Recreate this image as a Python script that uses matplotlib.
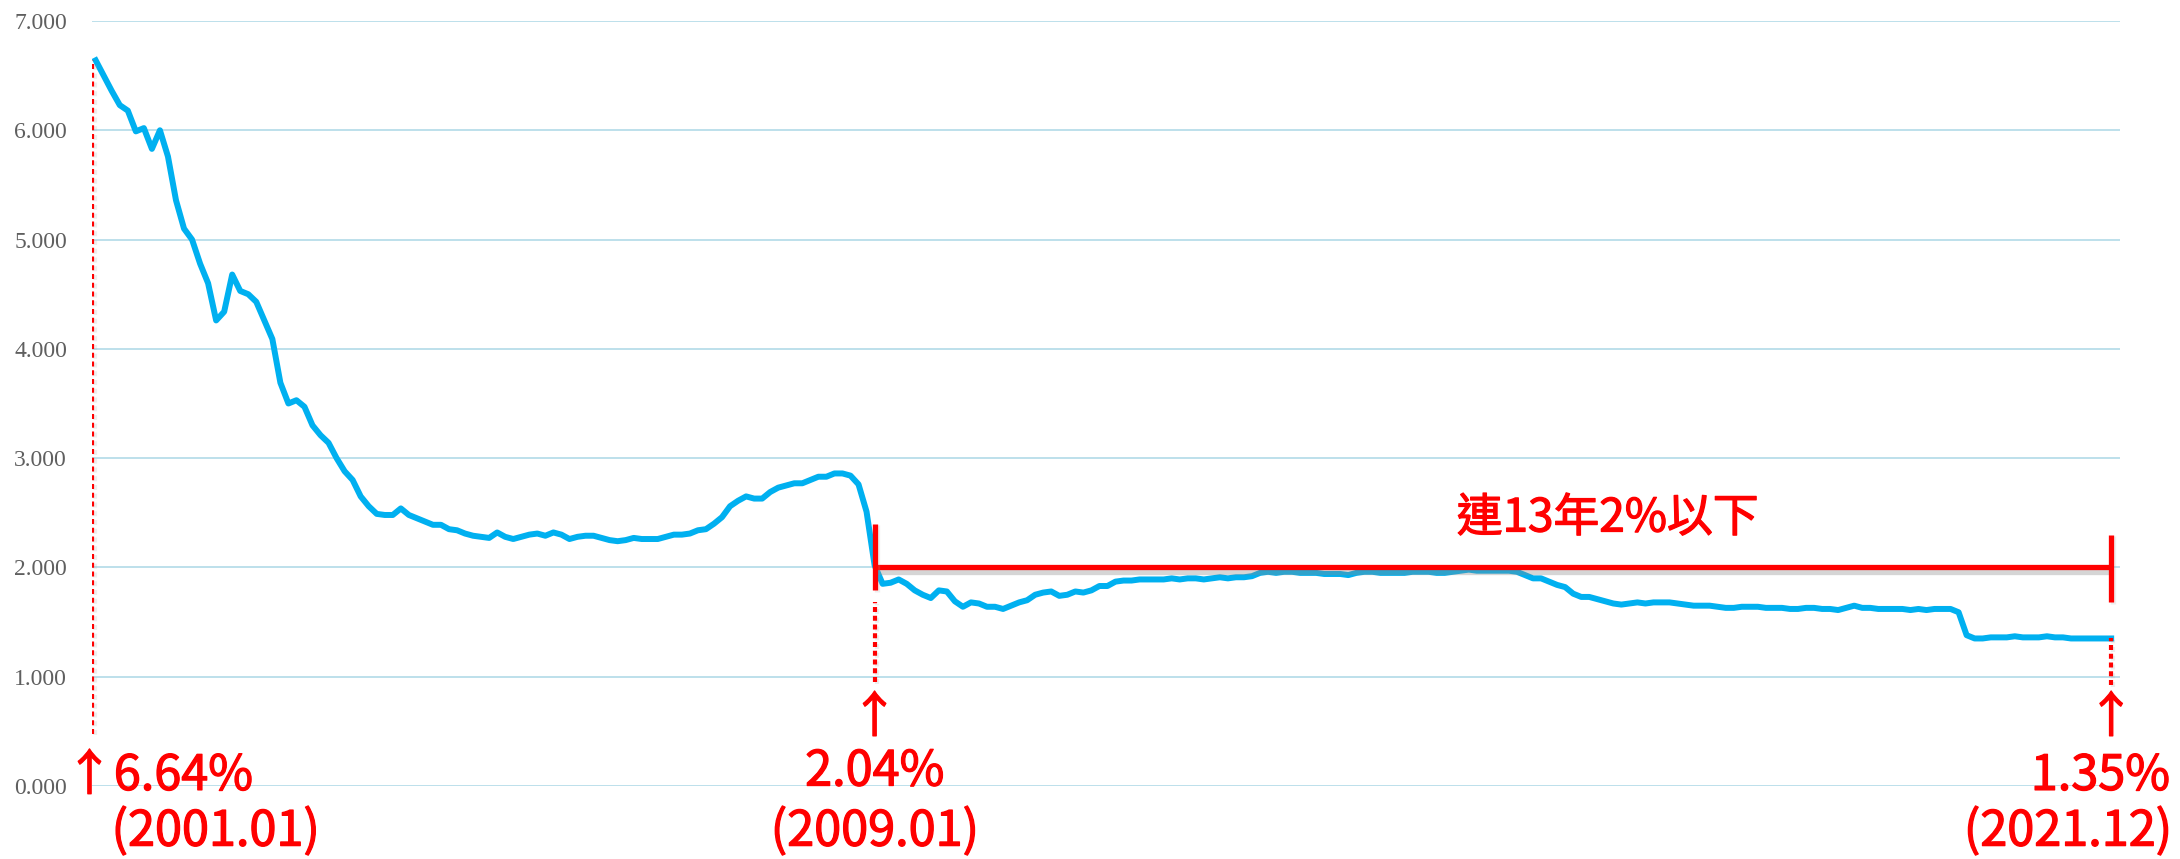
import matplotlib
matplotlib.use("Agg")
import matplotlib.pyplot as plt
import matplotlib.patheffects as pe

# monthly rate (%), 2001.01 .. 2021.12
years = list(range(2001, 2022))
months = [f"{y}.{m:02d}" for y in years for m in range(1, 13)]

rate = [
    6.64, 6.50, 6.36, 6.23, 6.18, 5.99, 6.02, 5.83, 6.00, 5.76, 5.36, 5.10,
    5.00, 4.78, 4.60, 4.26, 4.34, 4.68, 4.53, 4.50, 4.43, 4.26, 4.09, 3.69,
    3.50, 3.53, 3.47, 3.30, 3.21, 3.14, 3.00, 2.88, 2.80, 2.65, 2.56, 2.49,
    2.48, 2.48, 2.54, 2.48, 2.45, 2.42, 2.39, 2.39, 2.35, 2.34, 2.31, 2.29,
    2.28, 2.27, 2.32, 2.28, 2.26, 2.28, 2.30, 2.31, 2.29, 2.32, 2.30, 2.26,
    2.28, 2.29, 2.29, 2.27, 2.25, 2.24, 2.25, 2.27, 2.26, 2.26, 2.26, 2.28,
    2.30, 2.30, 2.31, 2.34, 2.35, 2.40, 2.46, 2.56, 2.61, 2.65, 2.63, 2.63,
    2.69, 2.73, 2.75, 2.77, 2.77, 2.80, 2.83, 2.83, 2.86, 2.86, 2.84, 2.76,
    2.51, 2.02, 1.85, 1.86, 1.89, 1.85, 1.79, 1.75, 1.72, 1.79, 1.78, 1.69,
    1.64, 1.68, 1.67, 1.64, 1.64, 1.62, 1.65, 1.68, 1.70, 1.75, 1.77, 1.78,
    1.74, 1.75, 1.78, 1.77, 1.79, 1.83, 1.83, 1.87, 1.88, 1.88, 1.89, 1.89,
    1.89, 1.89, 1.90, 1.89, 1.90, 1.90, 1.89, 1.90, 1.91, 1.90, 1.91, 1.91,
    1.92, 1.95, 1.96, 1.95, 1.96, 1.96, 1.95, 1.95, 1.95, 1.94, 1.94, 1.94,
    1.93, 1.95, 1.96, 1.96, 1.95, 1.95, 1.95, 1.95, 1.96, 1.96, 1.96, 1.95,
    1.95, 1.96, 1.97, 1.98, 1.97, 1.97, 1.97, 1.97, 1.97, 1.96, 1.93, 1.90,
    1.90, 1.87, 1.84, 1.82, 1.76, 1.73, 1.73, 1.71, 1.69, 1.67, 1.66, 1.67,
    1.68, 1.67, 1.68, 1.68, 1.68, 1.67, 1.66, 1.65, 1.65, 1.65, 1.64, 1.63,
    1.63, 1.64, 1.64, 1.64, 1.63, 1.63, 1.63, 1.62, 1.62, 1.63, 1.63, 1.62,
    1.62, 1.61, 1.63, 1.65, 1.63, 1.63, 1.62, 1.62, 1.62, 1.62, 1.61, 1.62,
    1.61, 1.62, 1.62, 1.62, 1.59, 1.38, 1.35, 1.35, 1.36, 1.36, 1.36, 1.37,
    1.36, 1.36, 1.36, 1.37, 1.36, 1.36, 1.35, 1.35, 1.35, 1.35, 1.35, 1.35,
]

yticks = [0, 1, 2, 3, 4, 5, 6, 7]
mark_months = ["2001.01", "2009.01", "2021.12"]
mark_values = [6.64, 2.04, 1.35]
threshold = 2.0
note = "連13年2%以下"

BLUE = "#00b0f0"
RED = "#ff0000"
CJK = ["Noto Sans CJK TC", "DejaVu Sans"]

fig = plt.figure(figsize=(21.8, 8.59), dpi=100)
ax = fig.add_axes([92 / 2180, 73 / 859, 2028 / 2180, 765 / 859])
ax.set_xlim(-0.46, 252.1)
ax.set_ylim(0, 7)

ax.set_yticks(yticks)
ax.set_yticklabels([f"{v:.3f}" for v in yticks], family="Liberation Serif",
                   fontsize=17, color="#5f5f5f")
ax.set_xticks([])
ax.tick_params(axis="y", length=0, pad=18)
ax.yaxis.grid(True, color="#b7dde9", lw=1.3)
ax.set_axisbelow(True)
for s in ax.spines.values():
    s.set_visible(False)

x = list(range(len(rate)))
ax.plot(x, rate, color=BLUE, lw=4.3, solid_joinstyle="round", zorder=3)

# red markers
shadow = [pe.SimpleLineShadow(offset=(1.0, -3.0), shadow_color="#888888", alpha=0.35),
          pe.Normal()]
halo = [pe.SimpleLineShadow(offset=(1.5, -1.0), shadow_color="#aaaaaa", alpha=0.2),
        pe.Normal()]
dots = (0, (1.2, 0.9))

x0, x1, x2 = [months.index(m) for m in mark_months]
x1 += 1  # the reference marker sits a little right of the data point

ax.plot([x1, x2], [threshold, threshold], color=RED, lw=3.8, zorder=5,
        solid_capstyle="butt", path_effects=shadow)
ax.plot([x1, x1], [1.79, 2.40], color=RED, lw=3.8, zorder=5,
        solid_capstyle="butt", path_effects=halo)
ax.plot([x2, x2], [1.68, 2.30], color=RED, lw=3.8, zorder=5,
        solid_capstyle="butt", path_effects=halo)

ax.plot([x0 - 0.4, x0 - 0.4], [0.48, mark_values[0]], color=RED, lw=3.0,
        ls=dots, zorder=4, path_effects=halo)
ax.plot([x1, x1], [0.95, 1.68], color=RED, lw=3.0, ls=dots, zorder=4,
        path_effects=halo)
ax.plot([x2, x2], [0.92, mark_values[2]], color=RED, lw=3.0, ls=dots, zorder=4,
        path_effects=halo)

# labels: regular weight, thickened slightly with a stroke
thick = [pe.withStroke(linewidth=0.9, foreground=RED)]
lab = dict(family=CJK, fontsize=35, color=RED, va="center", path_effects=thick)
date_y = -0.42
ax.text(-3.8, 0.09, f"↑{mark_values[0]:.2f}%", ha="left", **lab)
ax.text(14.9, date_y, f"({mark_months[0]})", ha="center", **lab)

ax.text(x1, 0.62, "↑", ha="center", **lab)
ax.text(x1, 0.13, f"{mark_values[1]:.2f}%", ha="center", **lab)
ax.text(x1, date_y, f"({mark_months[1]})", ha="center", **lab)

ax.text(x2, 0.62, "↑", ha="center", **lab)
ax.text(258.3, 0.09, f"{mark_values[2]:.2f}%", ha="right", **lab)
ax.text(258.5, date_y, f"({mark_months[2]})", ha="right", **lab)

ax.text(188.3, 2.45, note, family=CJK, fontsize=33, color=RED,
        ha="center", va="center", path_effects=thick)

fig.savefig("out.png", dpi=100, facecolor="white")
